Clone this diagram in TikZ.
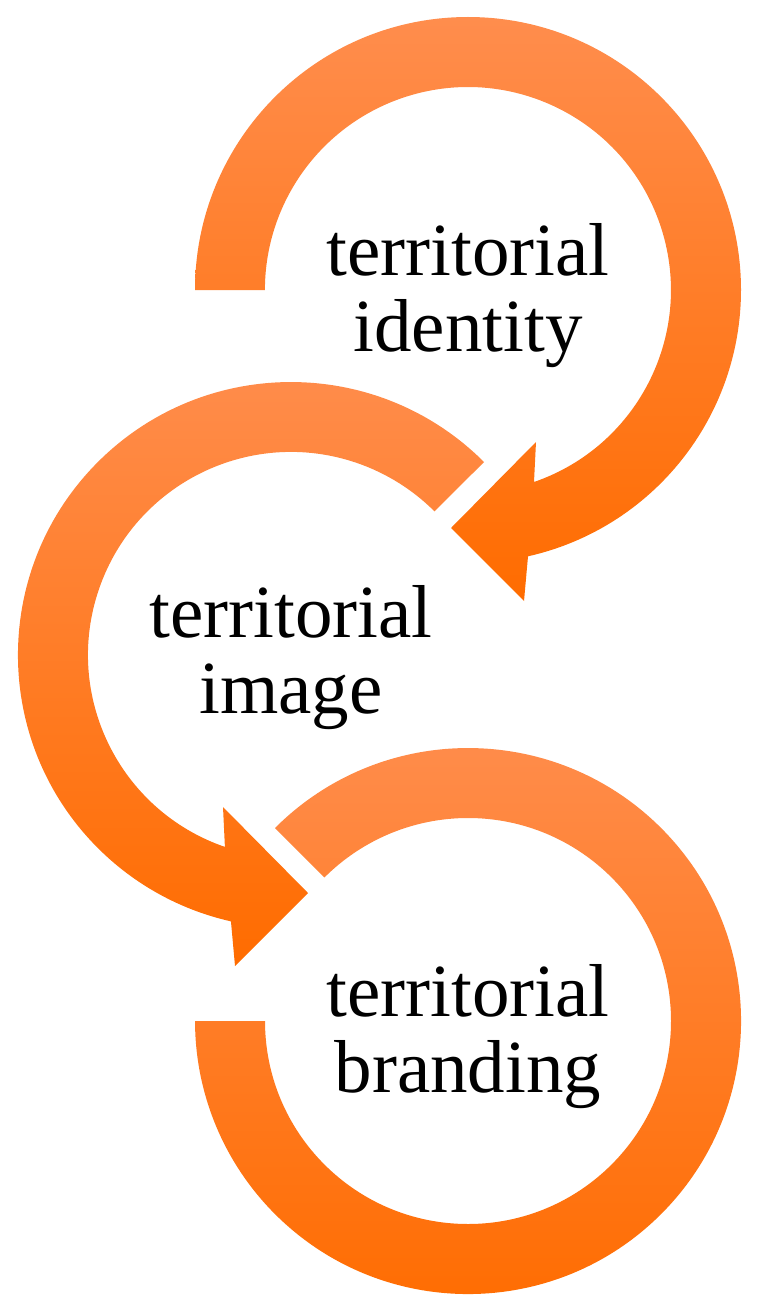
\documentclass[tikz,border=0pt]{standalone}
\usepackage{fontspec}
\setmainfont{Liberation Serif}
\usepackage{tikz}
\definecolor{lightorange}{RGB}{255,141,77}
\definecolor{darkorange}{RGB}{255,108,0}
\tikzstyle{ring}=[top color=lightorange,bottom color=darkorange,draw=none]
\tikzstyle{ringtext}=[align=center,inner sep=0pt,font=\fontsize{37.5}{38}\selectfont]

\begin{document}
\begin{tikzpicture}[x=0.5pt,y=0.5pt]
        \useasboundingbox (0,0) rectangle (772,-1311);
        %\draw[help lines] (0,0) grid[step=100] (772,-1311);

        % top arrow, clockwise
        \path[ring] (195,-290) arc[start angle=180,end angle=-77.3,radius=273]
                -- (524,-601) -- (451,-528) -- (536,-442)
                -- (534,-482) arc[start angle=-71,end angle=180,radius=203] -- cycle;

        % middle arrow, counter clockwise
        \path[ring] (484,-462) arc[start angle=45,end angle=257.3,radius=273]
                -- (235,-966) -- (308,-893) -- (223,-807)
                -- (224.9,-846.9) arc[start angle=251,end angle=45,radius=203] -- cycle;

        % bottom ring
        \path[ring] (275,-828) arc[start angle=135,end angle=-180,radius=273]
                -- (265,-1021) arc[start angle=-180,end angle=135,radius=203] -- cycle;

        \node[ringtext] (identity) at (468,-296) {territorial\\identity};
        \node[ringtext] (image) at (291,-658) {territorial\\image};
        \node[ringtext] (branding) at (468,-1037) {territorial\\branding};
\end{tikzpicture}
\end{document}
